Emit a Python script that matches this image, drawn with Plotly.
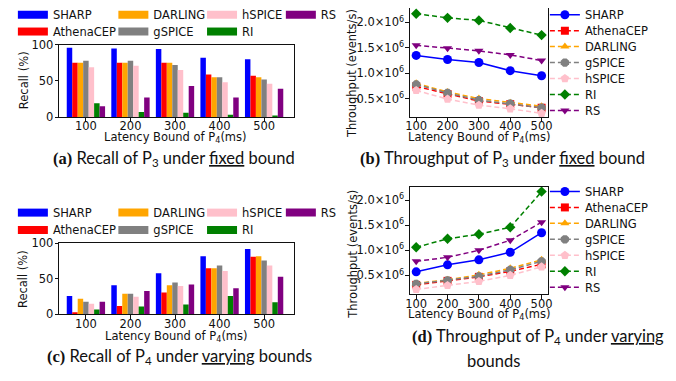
import plotly.graph_objects as go

W, H = 676, 381

latency = [100, 200, 300, 400, 500]
cats = ["100", "200", "300", "400", "500"]
methods = ["SHARP", "AthenaCEP", "DARLING", "gSPICE", "hSPICE", "RI", "RS"]
colors = ["blue", "red", "orange", "gray", "pink", "green", "purple"]
symbols = ["circle", "square", "triangle-up", "octagon", "pentagon", "diamond", "triangle-down"]
msizes = [9, 8, 8, 9, 9, 8, 8]

# (a) Recall of P3 under fixed bound (%)
recall_a = {
    "SHARP":     [96, 95, 94, 82, 80],
    "AthenaCEP": [75, 75, 75, 59, 57],
    "DARLING":   [75, 75, 75, 55, 55],
    "gSPICE":    [78, 78, 72, 55, 52],
    "hSPICE":    [69, 71, 65, 48, 46],
    "RI":        [19, 7, 6, 3, 2],
    "RS":        [15, 27, 43, 27, 39],
}
# (b) Throughput of P3 under fixed bound (events/s)
thr_b = {
    "SHARP":     [1.35e6, 1.27e6, 1.21e6, 1.05e6, 0.95e6],
    "AthenaCEP": [0.74e6, 0.59e6, 0.45e6, 0.39e6, 0.32e6],
    "DARLING":   [0.80e6, 0.63e6, 0.50e6, 0.42e6, 0.35e6],
    "gSPICE":    [0.78e6, 0.61e6, 0.47e6, 0.40e6, 0.32e6],
    "hSPICE":    [0.66e6, 0.49e6, 0.37e6, 0.30e6, 0.21e6],
    "RI":        [2.17e6, 2.09e6, 2.04e6, 1.89e6, 1.75e6],
    "RS":        [1.55e6, 1.49e6, 1.44e6, 1.36e6, 1.25e6],
}
# (c) Recall of P4 under varying bounds (%)
recall_c = {
    "SHARP":     [26, 41, 58, 82, 92],
    "AthenaCEP": [3, 12, 31, 65, 81],
    "DARLING":   [22, 29, 41, 65, 82],
    "gSPICE":    [18, 29, 45, 69, 76],
    "hSPICE":    [15, 25, 40, 61, 69],
    "RI":        [7, 11, 14, 26, 17],
    "RS":        [18, 33, 42, 37, 53],
}
# (d) Throughput of P4 under varying bounds (events/s)
thr_d = {
    "SHARP":     [0.57e6, 0.71e6, 0.81e6, 0.96e6, 1.35e6],
    "AthenaCEP": [0.31e6, 0.39e6, 0.47e6, 0.58e6, 0.72e6],
    "DARLING":   [0.34e6, 0.41e6, 0.51e6, 0.64e6, 0.81e6],
    "gSPICE":    [0.33e6, 0.40e6, 0.48e6, 0.61e6, 0.78e6],
    "hSPICE":    [0.22e6, 0.30e6, 0.38e6, 0.50e6, 0.67e6],
    "RI":        [1.06e6, 1.23e6, 1.32e6, 1.46e6, 2.17e6],
    "RS":        [0.78e6, 0.86e6, 1.00e6, 1.20e6, 1.56e6],
}
recall_ticks = [0, 50, 100]
thr_ticks = [0.5e6, 1.0e6, 1.5e6, 2.0e6]
thr_ticktext = ["0.5×10<sup>6</sup>", "1.0×10<sup>6</sup>", "1.5×10<sup>6</sup>", "2.0×10<sup>6</sup>"]

FONT = "DejaVu Sans"
FS = 11.5
INK = "#111"

def xd(p0, p1):
    return [p0 / W, p1 / W]

def yd(top, bottom):
    return [max(0, 1 - bottom / H), min(1, 1 - top / H)]

fig = go.Figure()

legend_defs = {}
lid = [0]

def new_legend(px, py):
    lid[0] += 1
    name = "legend" if lid[0] == 1 else f"legend{lid[0]}"
    legend_defs[name] = dict(
        x=(px - 5) / W, y=1 - py / H, xanchor="left", yanchor="middle",
        bgcolor="rgba(0,0,0,0)", borderwidth=0,
        font=dict(family=FONT, size=FS, color=INK),
        orientation="v", tracegroupgap=0,
    )
    return name

# Bar charts
bar_leg_pos = {
    "SHARP": (13, 0), "DARLING": (115, 0), "hSPICE": (205, 0), "RS": (285, 0),
    "AthenaCEP": (13, 1), "gSPICE": (115, 1), "RI": (205, 1),
}
for (xa, ya, data, rows) in [("x", "y", recall_a, (7, 24.5)), ("x3", "y3", recall_c, (213, 231))]:
    for m, c in zip(methods, colors):
        fig.add_trace(go.Bar(x=cats, y=data[m], name=m, marker=dict(color=c, line=dict(width=0)),
                             xaxis=xa, yaxis=ya, showlegend=False, offsetgroup=m))
    for m, c in zip(methods, colors):
        px, r = bar_leg_pos[m]
        ln = new_legend(px, rows[r])
        fig.add_trace(go.Scatter(x=[None], y=[None], mode="lines", name=m,
                                 line=dict(color=c, width=8), xaxis=xa, yaxis=ya,
                                 showlegend=True, legend=ln))

# Line charts
for (xa, ya, data, y0) in [("x2", "y2", thr_b, 7), ("x4", "y4", thr_d, 191)]:
    for i, (m, c, s, ms) in enumerate(zip(methods, colors, symbols, msizes)):
        ln = new_legend(553, y0 + i * 16.6)
        fig.add_trace(go.Scatter(
            x=latency, y=data[m], name=m, mode="lines+markers",
            line=dict(color=c, width=1.5, dash="solid" if m == "SHARP" else "5px,3px"),
            marker=dict(symbol=s, size=ms, color=c, line=dict(width=0)),
            xaxis=xa, yaxis=ya, legend=ln, cliponaxis=False,
        ))

axis_common = dict(showgrid=False, zeroline=False, showline=True, linecolor=INK, linewidth=1,
                   ticks="outside", ticklen=3.5, tickwidth=1, tickcolor=INK,
                   tickfont=dict(family=FONT, size=FS, color=INK))
xcommon = dict(ticklabelstandoff=-5, **axis_common)
ycommon = dict(ticklabelstandoff=-1, **axis_common)

layout = dict(
    width=W, height=H, autosize=False, margin=dict(l=0, r=0, t=0, b=0),
    paper_bgcolor="white", plot_bgcolor="white",
    barmode="group", bargap=0.14, bargroupgap=0,
    xaxis=dict(domain=xd(55, 293.3), anchor="y", range=[-0.6, 4.67], type="category", mirror=True, **xcommon),
    yaxis=dict(domain=yd(38.3, 113.5), anchor="x", range=[0, 100], tickvals=recall_ticks, mirror=True, **ycommon),
    xaxis3=dict(domain=xd(55, 293.3), anchor="y3", range=[-0.6, 4.67], type="category", mirror=True, **xcommon),
    yaxis3=dict(domain=yd(245, 319), anchor="x3", range=[0, 100], tickvals=recall_ticks, mirror=True, **ycommon),
    xaxis2=dict(domain=xd(411, 551), anchor="y2", range=[80, 520], tickvals=latency, mirror=False, **xcommon),
    yaxis2=dict(domain=yd(0, 113.5), anchor="x2", range=[0.137e6, 2.284e6], tickvals=thr_ticks,
                ticktext=thr_ticktext, mirror=True, **ycommon),
    xaxis4=dict(domain=xd(411, 551), anchor="y4", range=[80, 520], tickvals=latency, mirror=True, **xcommon),
    yaxis4=dict(domain=yd(186, 298), anchor="x4", range=[0.123e6, 2.268e6], tickvals=thr_ticks,
                ticktext=thr_ticktext, mirror=True, **ycommon),
    showlegend=True,
)
layout.update(legend_defs)
fig.update_layout(**layout)

def ann(text, px, py, size=FS, family=FONT, angle=0, xanchor="center"):
    fig.add_annotation(text=text, x=px / W, y=1 - py / H, xref="paper", yref="paper",
                       showarrow=False, textangle=angle, xanchor=xanchor, yanchor="middle",
                       font=dict(family=family, size=size, color=INK))

xt = "Latency Bound of P<sub>4</sub>(ms)"
ann(xt, 173, 134.5)
ann(xt, 174, 341.5)
ann(xt, 482, 134.5)
ann(xt, 482, 319.5)
ann("Recall (%)", 19, 75.5, angle=-90)
ann("Recall (%)", 19, 282.5, angle=-90)
ann("Throughput (events/s)", 353, 68, angle=-90)
ann("Throughput (events/s)", 353, 256, angle=-90)

CAP = "Lato"
CS = 16.5
lab = '<span style="font-family:\'Liberation Serif\'"><b>({})</b></span> '
ann(lab.format("a") + "Recall of P<sub>3</sub> under <u>fixed</u> bound", 171.5, 157, size=CS, family=CAP)
ann(lab.format("b") + "Throughput of P<sub>3</sub> under <u>fixed</u> bound", 505, 157, size=CS, family=CAP)
ann(lab.format("c") + "Recall of P<sub>4</sub> under <u>varying</u> bounds", 177.5, 363, size=CS, family=CAP)
ann(lab.format("d") + "Throughput of P<sub>4</sub> under <u>varying</u>", 541.5, 342, size=CS, family=CAP)
ann("bounds", 495.5, 367, size=CS, family=CAP)

fig.write_html("out.html")
